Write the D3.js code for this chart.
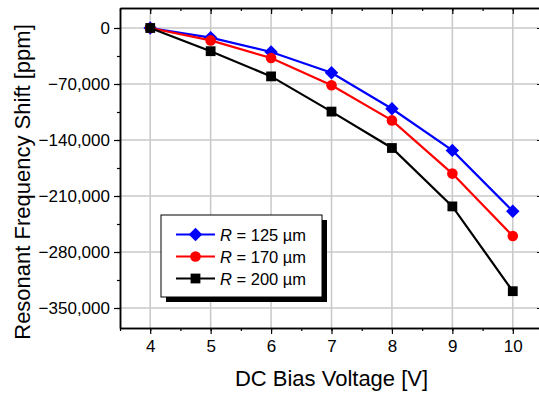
<!DOCTYPE html>
<html>
<head>
<meta charset="utf-8">
<script src="https://cdn.jsdelivr.net/npm/d3@7"></script>
<style>
body { margin: 0; background: #fff; }
svg { display: block; font-family: "Liberation Sans", Arial, sans-serif; }
</style>
</head>
<body>
<div id="chart"></div>
<script>
// DATA
var voltages = [4, 5, 6, 7, 8, 9, 10];
var shift125 = [0, -12000, -30000, -56000, -101000, -153000, -229000];
var shift170 = [0, -15500, -37500, -71500, -115500, -182000, -260000];
var shift200 = [0, -29000, -60500, -104500, -150000, -223000, -329000];
var seriesNames = ["125", "170", "200"];
var yTicks = [0, -70000, -140000, -210000, -280000, -350000];

var width = 539, height = 398;
// plot box (right edge lies just outside the picture, as in the reference)
var pLeft = 120, pRight = 543, pTop = 8, pBottom = 328;

var svg = d3.select("#chart").append("svg")
	.attr("width", width)
	.attr("height", height);

var x = d3.scaleLinear().domain([3.5, 10.5]).range([pLeft, pRight]);
var y = d3.scaleLinear().domain([-375000, 25000]).range([pBottom, pTop]);

// grid
var grid = svg.append("g").attr("stroke", "#c8c8c8").attr("stroke-width", 1.5);
grid.selectAll(".vx").data(voltages).enter().append("line")
	.attr("x1", function (d) { return x(d); }).attr("x2", function (d) { return x(d); })
	.attr("y1", pTop).attr("y2", pBottom);
grid.selectAll(".hy").data(yTicks).enter().append("line")
	.attr("y1", function (d) { return y(d); }).attr("y2", function (d) { return y(d); })
	.attr("x1", pLeft).attr("x2", pRight);

// axes
var fmt = d3.format(",");
var xMinor = d3.range(3.5, 10.51, 0.5);
var yMinor = d3.range(-385000, 25001, 35000).filter(function (d) { return d >= -375000; });

function ticks(g) {
	g.selectAll(".domain").attr("stroke-width", 1.5);
	g.selectAll(".tick line").attr("stroke-width", 1.2);
}

// bottom: ticks outward
svg.append("g").attr("transform", "translate(0," + pBottom + ")")
	.call(d3.axisBottom(x).tickValues(xMinor).tickSize(3).tickSizeOuter(0).tickFormat(""))
	.call(ticks);
svg.append("g").attr("transform", "translate(0," + pBottom + ")")
	.call(d3.axisBottom(x).tickValues(voltages).tickSize(6).tickSizeOuter(0).tickPadding(6).tickFormat(d3.format("d")))
	.call(ticks)
	.selectAll("text").attr("font-size", 17).attr("fill", "#000").attr("font-family", "Liberation Sans, Arial");

// left: ticks outward
svg.append("g").attr("transform", "translate(" + pLeft + ",0)")
	.call(d3.axisLeft(y).tickValues(yMinor).tickSize(3).tickSizeOuter(0).tickFormat(""))
	.call(ticks);
svg.append("g").attr("transform", "translate(" + pLeft + ",0)")
	.call(d3.axisLeft(y).tickValues(yTicks).tickSize(6).tickSizeOuter(0).tickPadding(4).tickFormat(fmt))
	.call(ticks)
	.selectAll("text").attr("font-size", 17).attr("fill", "#000").attr("font-family", "Liberation Sans, Arial");

// top (inward)
svg.append("g").attr("transform", "translate(0," + pTop + ")")
	.call(d3.axisBottom(x).tickValues(xMinor).tickSize(3).tickSizeOuter(0).tickFormat(""))
	.call(ticks);
svg.append("g").attr("transform", "translate(0," + pTop + ")")
	.call(d3.axisBottom(x).tickValues(voltages).tickSize(6).tickSizeOuter(0).tickFormat(""))
	.call(ticks);

// right (inward)
svg.append("g").attr("transform", "translate(" + pRight + ",0)")
	.call(d3.axisLeft(y).tickValues(yMinor).tickSize(3).tickSizeOuter(0).tickFormat(""))
	.call(ticks);
svg.append("g").attr("transform", "translate(" + pRight + ",0)")
	.call(d3.axisLeft(y).tickValues(yTicks).tickSize(6).tickSizeOuter(0).tickFormat(""))
	.call(ticks);

// series
var series = [
	{ name: seriesNames[0], values: shift125, color: "#0000ff", symbol: d3.symbolDiamond2, size: 115 },
	{ name: seriesNames[1], values: shift170, color: "#ff0000", symbol: d3.symbolCircle, size: 88 },
	{ name: seriesNames[2], values: shift200, color: "#000000", symbol: d3.symbolSquare, size: 96 }
];

var line = d3.line()
	.x(function (d, i) { return x(voltages[i]); })
	.y(function (d) { return y(d); });

series.forEach(function (s) {
	svg.append("path")
		.datum(s.values)
		.attr("d", line)
		.attr("fill", "none")
		.attr("stroke", s.color)
		.attr("stroke-width", 2.2);
	svg.selectAll(null).data(s.values).enter().append("path")
		.attr("d", d3.symbol().type(s.symbol).size(s.size))
		.attr("transform", function (d, i) { return "translate(" + x(voltages[i]) + "," + y(d) + ")"; })
		.attr("fill", s.color);
});

// legend
var lg = svg.append("g");
lg.append("rect").attr("x", 166).attr("y", 220).attr("width", 161).attr("height", 82).attr("fill", "#000");
lg.append("rect").attr("x", 161).attr("y", 215).attr("width", 161).attr("height", 82)
	.attr("fill", "#fff").attr("stroke", "#000").attr("stroke-width", 1);
series.forEach(function (s, i) {
	var yy = 234.5 + i * 22;
	lg.append("line").attr("x1", 176).attr("x2", 215).attr("y1", yy).attr("y2", yy)
		.attr("stroke", s.color).attr("stroke-width", 2.2);
	lg.append("path").attr("d", d3.symbol().type(s.symbol).size(s.size))
		.attr("transform", "translate(195.5," + yy + ")").attr("fill", s.color);
	var t = lg.append("text").attr("x", 220).attr("y", yy + 6).attr("font-size", 16.5);
	t.append("tspan").attr("font-style", "italic").text("R");
	t.append("tspan").text(" = " + s.name + " \u00b5m");
});

// titles
svg.append("text")
	.attr("x", (pLeft + pRight) / 2).attr("y", 386)
	.attr("text-anchor", "middle").attr("font-size", 22)
	.text("DC Bias Voltage [V]");
svg.append("text")
	.attr("transform", "translate(30,182) rotate(-90)")
	.attr("text-anchor", "middle").attr("font-size", 22)
	.text("Resonant Frequency Shift [ppm]");
</script>
</body>
</html>
